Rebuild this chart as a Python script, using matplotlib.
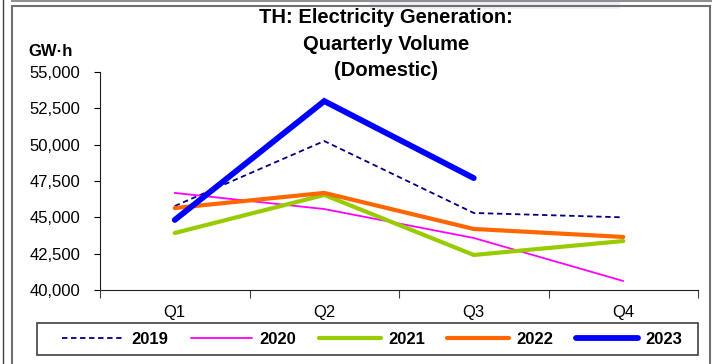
import matplotlib
matplotlib.use("Agg")
import matplotlib.pyplot as plt
from matplotlib.patches import Rectangle
from matplotlib.lines import Line2D

plt.rcParams['font.family'] = ['Liberation Sans', 'DejaVu Sans']

quarters = ["Q1", "Q2", "Q3", "Q4"]
years = ["2019", "2020", "2021", "2022", "2023"]
v2019 = [45780, 50250, 45300, 45000]
v2020 = [46680, 45570, 43580, 40620]
v2021 = [43920, 46540, 42410, 43370]
v2022 = [45640, 46680, 44200, 43650]
v2023 = [44820, 53000, 47700]
yticks = [40000, 42500, 45000, 47500, 50000, 52500, 55000]

W, H = 712, 364
fig = plt.figure(figsize=(W / 100, H / 100), dpi=100)

# frame decorations
fig.add_artist(Rectangle((370 / W, 1 - 9 / H), 250 / W, 9 / H, transform=fig.transFigure,
                         facecolor="#eef0fa", edgecolor="none"))
fig.add_artist(Rectangle((12 / W, -0.05), (710 - 12) / W, (H - 6) / H + 0.05,
                         transform=fig.transFigure, fill=False,
                         edgecolor="#707070", linewidth=1.5))
fig.add_artist(Line2D([12 / W, 1], [1 - 1 / H, 1 - 1 / H], transform=fig.transFigure,
                      color="#909090", linewidth=1.5))
fig.add_artist(Line2D([3 / W, 3 / W], [0, 1], transform=fig.transFigure,
                      color="#404040", linewidth=1.0))
# legend box
fig.add_artist(Rectangle((37 / W, 1 - 355 / H), (698 - 37) / W, 32 / H,
                         transform=fig.transFigure, fill=False,
                         edgecolor="#404040", linewidth=1.2))

ax = fig.add_axes([100 / W, 1 - 290 / H, (698 - 100) / W, (290 - 72) / H])

series = [v2019, v2020, v2021, v2022, v2023]
styles = [
    dict(color="#000080", lw=1.3, ls=(0, (3, 2))),
    dict(color="#FF00FF", lw=1.3, ls="-"),
    dict(color="#99CC00", lw=3.0, ls="-"),
    dict(color="#FF6600", lw=3.0, ls="-"),
    dict(color="#0000FF", lw=4.2, ls="-"),
]
handles = []
for yr, vals, st in zip(years, series, styles):
    x = list(range(len(vals)))
    h, = ax.plot(x, vals, color=st["color"], lw=st["lw"], linestyle=st["ls"],
                 solid_capstyle="round", solid_joinstyle="miter", label=yr)
    handles.append(h)

ax.set_xlim(-0.5, 3.5)
ax.set_ylim(40000, 55000)
ax.set_yticks(yticks)
ax.set_yticklabels([f"{v:,}" for v in yticks], fontsize=12)
ax.set_xticks([-0.5, 0.5, 1.5, 2.5, 3.5])
ax.set_xticklabels([])
ax.set_xticks(range(4), minor=True)
ax.set_xticklabels(quarters, minor=True, fontsize=12)
ax.tick_params(axis="x", which="minor", length=0, pad=11)
ax.tick_params(axis="x", which="major", length=6, direction="out", color="#404040")
ax.tick_params(axis="y", length=4, direction="out", pad=10)
for s in ["top", "right"]:
    ax.spines[s].set_visible(False)
ax.spines["left"].set_color("#202020")
ax.spines["bottom"].set_color("#202020")

fig.text(386 / W, 1 - 8 / H, "TH: Electricity Generation:\nQuarterly Volume\n(Domestic)",
         ha="center", va="top", fontsize=14.5, fontweight="bold", linespacing=1.5)
fig.text(28 / W, 1 - 52 / H, "GW·h", ha="left", va="center", fontsize=12, fontweight="bold")

leg = fig.legend(handles=handles, loc="center", ncol=5, mode="expand",
                 bbox_to_anchor=(62 / W, 1 - 355 / H, (682 - 62) / W, 32 / H),
                 frameon=False, handlelength=3.7,
                 prop={"weight": "bold", "size": 12}, borderaxespad=0,
                 borderpad=0.0, handletextpad=0.45)

fig.savefig("out.png", dpi=100)
